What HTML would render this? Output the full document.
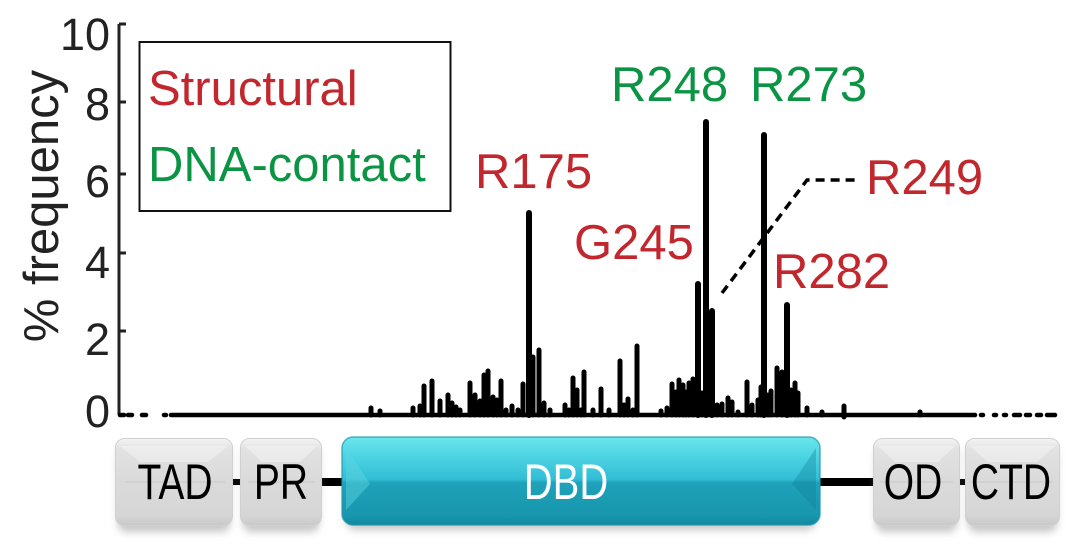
<!DOCTYPE html>
<html><head><meta charset="utf-8">
<style>
html,body{margin:0;padding:0;background:#fff;}
svg{display:block;}
text{font-family:"Liberation Sans",Arial,sans-serif;}
</style></head>
<body>
<svg width="1080" height="544" viewBox="0 0 1080 544" xmlns="http://www.w3.org/2000/svg">
<defs>
  <linearGradient id="gray" x1="0" y1="0" x2="0" y2="1">
    <stop offset="0" stop-color="#f4f4f4"/>
    <stop offset="0.12" stop-color="#e2e2e2"/>
    <stop offset="0.5" stop-color="#dadada"/>
    <stop offset="0.88" stop-color="#d6d6d6"/>
    <stop offset="1" stop-color="#c9c9c9"/>
  </linearGradient>
  <linearGradient id="teal" x1="0" y1="0" x2="0" y2="1">
    <stop offset="0" stop-color="#6ae6ea"/>
    <stop offset="0.2" stop-color="#4fd6e4"/>
    <stop offset="0.48" stop-color="#32bdd6"/>
    <stop offset="0.52" stop-color="#1ea2ba"/>
    <stop offset="0.9" stop-color="#1896ad"/>
    <stop offset="1" stop-color="#10899e"/>
  </linearGradient>
  <filter id="blur" x="-10%" y="-30%" width="120%" height="160%">
    <feGaussianBlur stdDeviation="4"/>
  </filter>
</defs>

<!-- Y axis -->
<line x1="119" y1="24" x2="119" y2="415" stroke="#222" stroke-width="3"/>
<g stroke="#222" stroke-width="3">
  <line x1="119" y1="24" x2="126" y2="24"/>
  <line x1="119" y1="102" x2="126" y2="102"/>
  <line x1="119" y1="174" x2="126" y2="174"/>
  <line x1="119" y1="253" x2="126" y2="253"/>
  <line x1="119" y1="331" x2="126" y2="331"/>
</g>
<g font-size="45" fill="#222" text-anchor="end">
  <text x="110" y="50">10</text>
  <text x="110" y="120">8</text>
  <text x="110" y="197">6</text>
  <text x="110" y="278">4</text>
  <text x="110" y="355">2</text>
  <text x="110" y="427">0</text>
</g>
<text transform="translate(58,206) rotate(-90)" font-size="49" fill="#222" text-anchor="middle">% frequency</text>

<!-- Legend -->
<rect x="139.5" y="42" width="311" height="169" fill="none" stroke="#111" stroke-width="2"/>
<text x="148" y="105" font-size="49" fill="#c1272d">Structural</text>
<text x="148" y="181" font-size="49" fill="#0b9444">DNA-contact</text>

<!-- Baseline -->
<g stroke="#000" stroke-width="4.5" stroke-linecap="round">
  <line x1="120" y1="415" x2="124" y2="415"/>
  <line x1="128" y1="415" x2="132" y2="415"/>
  <line x1="142" y1="415" x2="146" y2="415"/>
  <line x1="164" y1="415" x2="166" y2="415"/>
  <line x1="171" y1="415" x2="975" y2="415"/>
  <line x1="981" y1="415" x2="983" y2="415"/>
  <line x1="994" y1="415" x2="996" y2="415"/>
  <line x1="1004" y1="415" x2="1006" y2="415"/>
  <line x1="1014" y1="415" x2="1020" y2="415"/>
  <line x1="1026" y1="415" x2="1030" y2="415"/>
  <line x1="1037" y1="415" x2="1041" y2="415"/>
  <line x1="1047" y1="415" x2="1055" y2="415"/>
</g>

<!-- Bars -->
<g stroke="#000" stroke-width="5" stroke-linecap="round">
<line x1="371" y1="415" x2="371" y2="408"/>
<line x1="380" y1="415" x2="380" y2="411"/>
<line x1="413" y1="415" x2="413" y2="408"/>
<line x1="420" y1="415" x2="420" y2="406"/>
<line x1="424" y1="415" x2="424" y2="386"/>
<line x1="432" y1="415" x2="432" y2="381"/>
<line x1="440" y1="415" x2="440" y2="401"/>
<line x1="448" y1="415" x2="448" y2="395"/>
<line x1="452" y1="415" x2="452" y2="403"/>
<line x1="456" y1="415" x2="456" y2="407"/>
<line x1="460" y1="415" x2="460" y2="410"/>
<line x1="470" y1="415" x2="470" y2="383"/>
<line x1="475" y1="415" x2="475" y2="395"/>
<line x1="480" y1="415" x2="480" y2="401"/>
<line x1="484" y1="415" x2="484" y2="375"/>
<line x1="488" y1="415" x2="488" y2="371"/>
<line x1="493" y1="415" x2="493" y2="397"/>
<line x1="497" y1="415" x2="497" y2="400"/>
<line x1="501" y1="415" x2="501" y2="381"/>
<line x1="506" y1="415" x2="506" y2="410"/>
<line x1="512" y1="415" x2="512" y2="406"/>
<line x1="518" y1="415" x2="518" y2="410"/>
<line x1="523" y1="415" x2="523" y2="384"/>
<line x1="529" y1="415" x2="529" y2="213" stroke-width="6"/>
<line x1="533" y1="415" x2="533" y2="357"/>
<line x1="539" y1="415" x2="539" y2="350"/>
<line x1="544" y1="415" x2="544" y2="403"/>
<line x1="550" y1="415" x2="550" y2="410"/>
<line x1="565" y1="415" x2="565" y2="405"/>
<line x1="569" y1="415" x2="569" y2="410"/>
<line x1="573" y1="415" x2="573" y2="378"/>
<line x1="577" y1="415" x2="577" y2="390"/>
<line x1="581" y1="415" x2="581" y2="410"/>
<line x1="584" y1="415" x2="584" y2="372"/>
<line x1="593" y1="415" x2="593" y2="410"/>
<line x1="601" y1="415" x2="601" y2="389"/>
<line x1="609" y1="415" x2="609" y2="410"/>
<line x1="620" y1="415" x2="620" y2="361"/>
<line x1="624" y1="415" x2="624" y2="405"/>
<line x1="628" y1="415" x2="628" y2="399"/>
<line x1="633" y1="415" x2="633" y2="410"/>
<line x1="637" y1="415" x2="637" y2="346"/>
<line x1="661" y1="415" x2="661" y2="411"/>
<line x1="667" y1="415" x2="667" y2="408"/>
<line x1="672" y1="415" x2="672" y2="384"/>
<line x1="676" y1="415" x2="676" y2="392"/>
<line x1="679" y1="415" x2="679" y2="380"/>
<line x1="683" y1="415" x2="683" y2="385"/>
<line x1="686" y1="415" x2="686" y2="392"/>
<line x1="689" y1="415" x2="689" y2="383"/>
<line x1="693" y1="415" x2="693" y2="379"/>
<line x1="698" y1="415" x2="698" y2="284" stroke-width="6"/>
<line x1="702" y1="415" x2="702" y2="393"/>
<line x1="706" y1="415" x2="706" y2="122" stroke-width="6"/>
<line x1="712" y1="415" x2="712" y2="311" stroke-width="6"/>
<line x1="717" y1="415" x2="717" y2="405"/>
<line x1="722" y1="415" x2="722" y2="404"/>
<line x1="728" y1="415" x2="728" y2="398"/>
<line x1="732" y1="415" x2="732" y2="402"/>
<line x1="738" y1="415" x2="738" y2="412"/>
<line x1="747" y1="415" x2="747" y2="382"/>
<line x1="752" y1="415" x2="752" y2="405"/>
<line x1="758" y1="415" x2="758" y2="400"/>
<line x1="761" y1="415" x2="761" y2="387"/>
<line x1="764" y1="415" x2="764" y2="135" stroke-width="6"/>
<line x1="768" y1="415" x2="768" y2="395"/>
<line x1="771" y1="415" x2="771" y2="391"/>
<line x1="777" y1="415" x2="777" y2="368"/>
<line x1="782" y1="415" x2="782" y2="372"/>
<line x1="787" y1="415" x2="787" y2="305" stroke-width="6"/>
<line x1="791" y1="415" x2="791" y2="390"/>
<line x1="795" y1="415" x2="795" y2="383"/>
<line x1="798" y1="415" x2="798" y2="393"/>
<line x1="807" y1="415" x2="807" y2="408"/>
<line x1="822" y1="415" x2="822" y2="412"/>
<line x1="844" y1="417" x2="844" y2="406"/>
<line x1="920" y1="415" x2="920" y2="412"/>
</g>

<!-- Annotations -->
<g font-size="49">
  <text x="611" y="101" fill="#0b9444">R248</text>
  <text x="750" y="101" fill="#0b9444">R273</text>
  <text x="475" y="188" fill="#c1272d">R175</text>
  <text x="574" y="259" fill="#c1272d">G245</text>
  <text x="866" y="194" fill="#c1272d">R249</text>
  <text x="773" y="288" fill="#c1272d">R282</text>
</g>
<polyline points="722,293 807,180 858,180" fill="none" stroke="#000" stroke-width="3.5" stroke-dasharray="9 6"/>

<!-- Domain connector lines -->
<rect x="230" y="479" width="14" height="6" fill="#000"/>
<rect x="318" y="478" width="28" height="8" fill="#000"/>
<rect x="816" y="478" width="60" height="8" fill="#000"/>
<rect x="957" y="479" width="10" height="6" fill="#000"/>

<!-- shadows -->
<g fill="#9a9a9a" opacity="0.55" filter="url(#blur)">
  <rect x="118" y="446" width="112" height="86" rx="8"/>
  <rect x="243" y="446" width="76" height="86" rx="8"/>
  <rect x="346" y="446" width="470" height="84" rx="10"/>
  <rect x="876" y="446" width="81" height="86" rx="8"/>
  <rect x="968" y="446" width="89" height="86" rx="8"/>
</g>

<!-- Domain boxes -->
<g stroke="#d0d0d0" stroke-width="1">
  <rect x="115.5" y="438.5" width="117" height="87" rx="9" fill="url(#gray)"/>
  <rect x="240.5" y="438.5" width="81" height="87" rx="9" fill="url(#gray)"/>
  <rect x="873.5" y="438.5" width="86" height="87" rx="9" fill="url(#gray)"/>
  <rect x="965.5" y="438.5" width="94" height="87" rx="9" fill="url(#gray)"/>
</g>
<g fill="#ffffff" opacity="0.35">
  <polygon points="120,446 140,462 208,462 228,446"/>
  <polygon points="245,446 262,462 300,462 317,446"/>
  <polygon points="878,446 895,462 938,462 955,446"/>
  <polygon points="970,446 988,462 1037,462 1055,446"/>
</g>
<g stroke="#bdbdbd" stroke-width="1" opacity="0.6">
  <line x1="125" y1="482" x2="225" y2="482"/>
  <line x1="248" y1="482" x2="315" y2="482"/>
  <line x1="880" y1="482" x2="953" y2="482"/>
  <line x1="972" y1="482" x2="1053" y2="482"/>
</g>
<rect x="342" y="437" width="478" height="88" rx="11" fill="url(#teal)"/>
<polygon points="346,448 370,484 346,510" fill="#5fd6e2" opacity="0.45"/>
<polygon points="816,448 792,484 816,510" fill="#0e7f94" opacity="0.35"/>
<rect x="342" y="437" width="478" height="88" rx="11" fill="none" stroke="#1b97ad" stroke-width="1.5" opacity="0.7"/>

<!-- Domain labels -->
<g font-size="50" text-anchor="middle" fill="#000">
  <text transform="translate(175,499) scale(0.78,1)">TAD</text>
  <text transform="translate(281,499) scale(0.78,1)">PR</text>
  <text transform="translate(913,499) scale(0.78,1)">OD</text>
  <text transform="translate(1011,499) scale(0.78,1)">CTD</text>
  <text transform="translate(566,499) scale(0.8,1)" fill="#ffffff">DBD</text>
</g>
</svg>
</body></html>
